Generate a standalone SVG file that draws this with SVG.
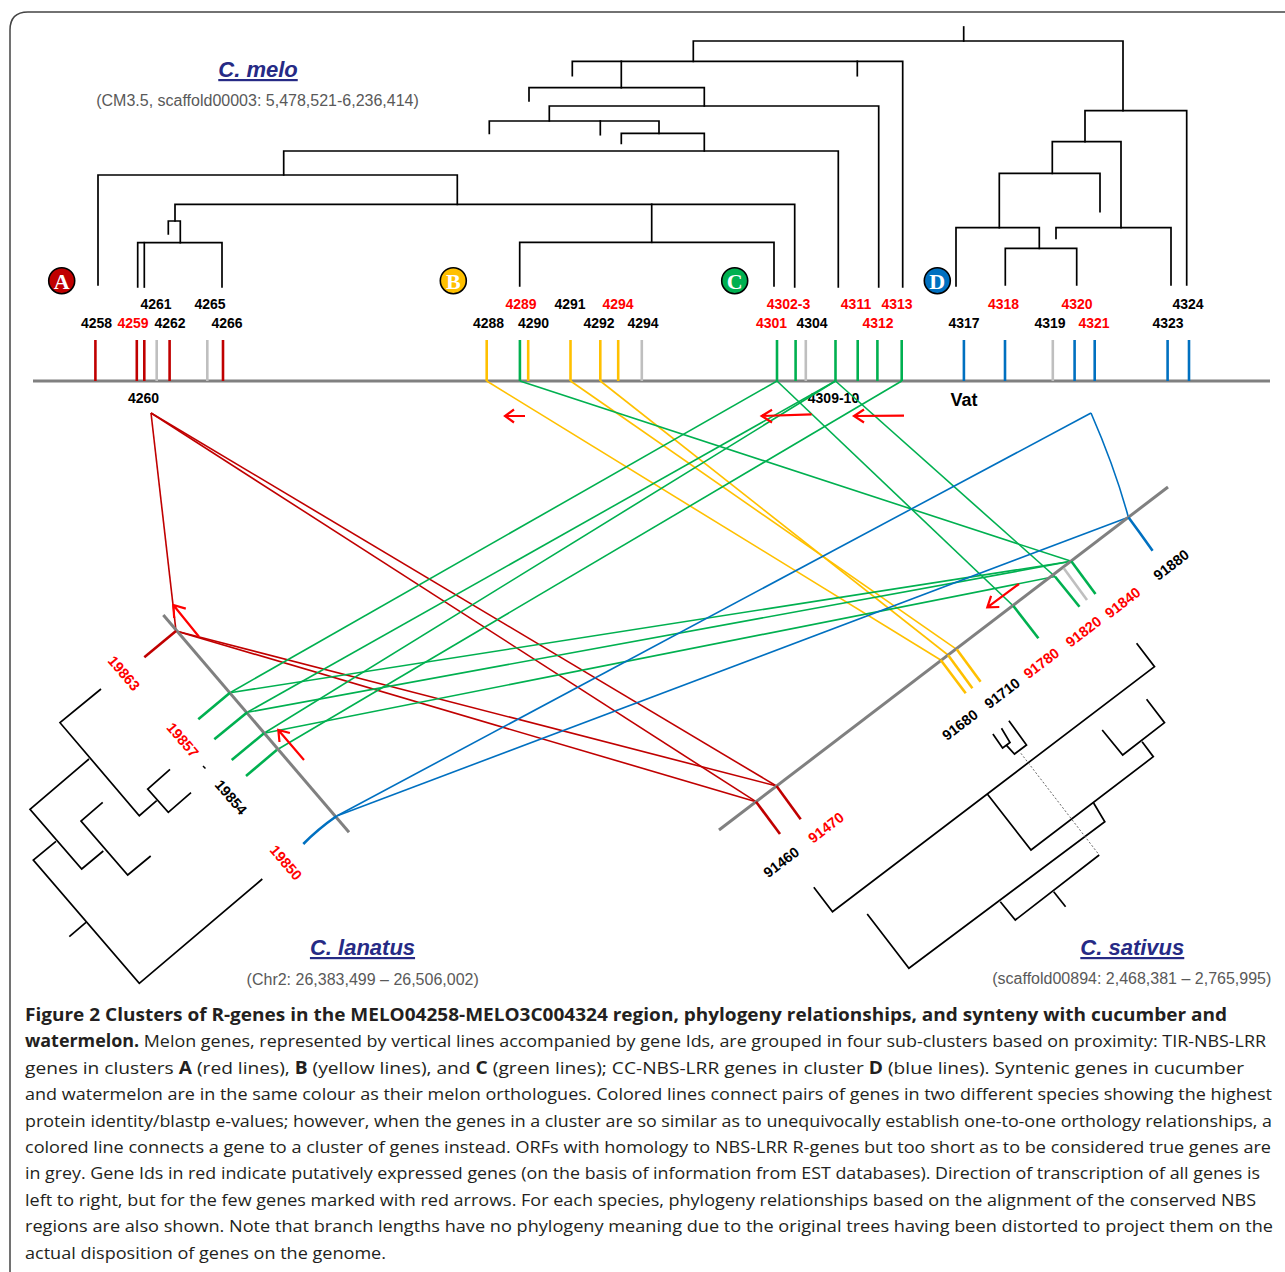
<svg xmlns="http://www.w3.org/2000/svg" width="1285" height="1272" viewBox="0 0 1285 1272">
<style>
.lbl{font-family:"Liberation Sans",Arial,sans-serif;font-weight:bold;font-size:14px;text-anchor:middle}
.rl{font-family:"Liberation Sans",Arial,sans-serif;font-weight:bold;font-size:14.5px;text-anchor:middle}
.r{fill:#FF0000}.k{fill:#000}
.tree{fill:none;stroke:#000;stroke-width:1.7;stroke-linecap:square}
.tk{stroke-width:2.6;fill:none}
.cA{stroke:#C00000}.cB{stroke:#FFC000}.cC{stroke:#00B050}.cD{stroke:#0070C0}.cG{stroke:#BFBFBF}
.cn{fill:none;stroke-width:1.6}
.arr{fill:none;stroke:#FF0000;stroke-width:2.2}
.axis{stroke:#808080;stroke-width:3}
.sp{font-family:"Liberation Sans",Arial,sans-serif;font-weight:bold;font-style:italic;font-size:22px;fill:#262a85;text-anchor:middle;text-decoration:underline}
.sub{font-family:"Liberation Sans",Arial,sans-serif;font-size:16px;fill:#595959;text-anchor:middle}
.circ{stroke:#000;stroke-width:1.6}
.cl{font-family:"Liberation Serif","Times New Roman",serif;font-weight:bold;font-size:22px;fill:#fff;text-anchor:middle}
.cap{font-family:"Open Sans","Noto Sans",sans-serif;font-size:17px;fill:#231F20}
.b{font-weight:bold}
</style>

<g id="frame"><path d="M10,1290 V30 Q10,12 28,12 H1295" fill="none" stroke="#444" stroke-width="1.5"/></g>

<g id="titles">
<text class="sp" x="258" y="77">C. melo</text>
<text class="sub" x="257.5" y="106">(CM3.5, scaffold00003: 5,478,521-6,236,414)</text>
<text class="sp" x="362.5" y="955">C. lanatus</text>
<text class="sub" x="362.7" y="985">(Chr2: 26,383,499 – 26,506,002)</text>
<text class="sp" x="1132.3" y="955">C. sativus</text>
<text class="sub" x="1131.8" y="984">(scaffold00894: 2,468,381 – 2,765,995)</text>
</g>

<g id="melo-tree" class="tree">
<path d="M963.7,27 V41"/>
<path d="M693.3,61.3 V41 H1123 V110.7"/>
<path d="M1085,141.7 V110.7 H1186.7 V285"/>
<path d="M1052.3,173.3 V141.7 H1121 V227.7"/>
<path d="M1056,238.3 V227.7 H1171 V285"/>
<path d="M1100,211.7 V173.3 H999.3 V227.7"/>
<path d="M956,286 V227.7 H1039.3 V248.3"/>
<path d="M1005.3,285 V248.3 H1076.7 V285"/>
<path d="M572.3,75.7 V61.3 H902.7 V287"/>
<path d="M857.3,75.7 V61.3"/>
<path d="M621.3,61.3 V87.7"/>
<path d="M529,101 V87.7 H704.3 V106"/>
<path d="M549.3,121 V106 H878.7 V287"/>
<path d="M489.3,133.3 V121 H659 V133.3"/>
<path d="M600.3,134.7 V121"/>
<path d="M621.3,143.3 V133.3 H704.3 V151"/>
<path d="M283.7,175 V151 H838.3 V287"/>
<path d="M98,285 V175 H457.3 V204.3"/>
<path d="M175,221 V204.3 H794.7 V287"/>
<path d="M651.7,204.3 V242.3"/>
<path d="M519.7,286 V242.3 H774 V286"/>
<path d="M168.3,234 V221 H180.3 V242.7"/>
<path d="M137.7,287 V242.7 H222 V287"/>
<path d="M144.3,287 V242.7"/>
</g>

<g id="cluster-A"><circle class="circ" cx="61.7" cy="280.7" r="13" fill="#C00000"/><text class="cl" x="61.7" y="288.5">A</text></g>
<g id="cluster-B"><circle class="circ" cx="453.3" cy="280.7" r="13" fill="#FFC000"/><text class="cl" x="453.3" y="288.5">B</text></g>
<g id="cluster-C"><circle class="circ" cx="734.7" cy="280.7" r="13" fill="#00B050"/><text class="cl" x="734.7" y="288.5">C</text></g>
<g id="cluster-D"><circle class="circ" cx="937.3" cy="280.7" r="13" fill="#0070C0"/><text class="cl" x="937.3" y="288.5">D</text></g>

<g id="melo-axis"><line class="axis" x1="33" y1="381" x2="1270" y2="381"/></g>

<g id="melo-genes">
<g id="g4258"><line class="tk cA" x1="95.4" y1="340" x2="95.4" y2="381"/><text class="lbl k" x="96.5" y="328">4258</text></g>
<g id="g4259"><line class="tk cA" x1="136.8" y1="340" x2="136.8" y2="381"/><text class="lbl r" x="133" y="328">4259</text></g>
<g id="g4261"><line class="tk cA" x1="144.3" y1="340" x2="144.3" y2="381"/><text class="lbl k" x="156" y="308.5">4261</text></g>
<g id="g4260"><line class="tk cG" x1="156.7" y1="340" x2="156.7" y2="381" stroke-width="2"/><text class="lbl k" x="143.5" y="403">4260</text></g>
<g id="g4262"><line class="tk cA" x1="169.6" y1="340" x2="169.6" y2="381"/><text class="lbl k" x="170" y="328">4262</text></g>
<g id="g4265"><line class="tk cG" x1="207.3" y1="340" x2="207.3" y2="381" stroke-width="2"/><text class="lbl k" x="210" y="308.5">4265</text></g>
<g id="g4266"><line class="tk cA" x1="223" y1="340" x2="223" y2="381"/><text class="lbl k" x="227" y="328">4266</text></g>
<g id="g4288"><line class="tk cB" x1="486.7" y1="340" x2="486.7" y2="381"/><text class="lbl k" x="488.5" y="328">4288</text></g>
<g id="g4289"><line class="tk cC" x1="519.9" y1="340" x2="519.9" y2="381"/><text class="lbl r" x="521" y="308.5">4289</text></g>
<g id="g4290"><line class="tk cB" x1="528.2" y1="340" x2="528.2" y2="381"/><text class="lbl k" x="533.5" y="328">4290</text></g>
<g id="g4291"><line class="tk cB" x1="570.5" y1="340" x2="570.5" y2="381"/><text class="lbl k" x="570" y="308.5">4291</text></g>
<g id="g4292"><line class="tk cB" x1="600.3" y1="340" x2="600.3" y2="381"/><text class="lbl k" x="599" y="328">4292</text></g>
<g id="g4294a"><line class="tk cB" x1="618.2" y1="340" x2="618.2" y2="381"/><text class="lbl r" x="618" y="308.5">4294</text></g>
<g id="g4294b"><line class="tk cG" x1="641.8" y1="340" x2="641.8" y2="381" stroke-width="2"/><text class="lbl k" x="643" y="328">4294</text></g>
<g id="g4301"><line class="tk cC" x1="777" y1="340" x2="777" y2="381"/><text class="lbl r" x="771.5" y="328">4301</text></g>
<g id="g4302-3"><line class="tk cC" x1="795.6" y1="340" x2="795.6" y2="381"/><text class="lbl r" x="788.5" y="308.5">4302-3</text></g>
<g id="g4304"><line class="tk cG" x1="805.8" y1="340" x2="805.8" y2="381" stroke-width="2"/><text class="lbl k" x="812" y="328">4304</text></g>
<g id="g4309-10"><line class="tk cC" x1="835.5" y1="340" x2="835.5" y2="381"/><text class="lbl k" x="833.5" y="403">4309-10</text></g>
<g id="g4311"><line class="tk cC" x1="857.7" y1="340" x2="857.7" y2="381"/><text class="lbl r" x="856" y="308.5">4311</text></g>
<g id="g4312"><line class="tk cC" x1="877.4" y1="340" x2="877.4" y2="381"/><text class="lbl r" x="878" y="328">4312</text></g>
<g id="g4313"><line class="tk cC" x1="901.7" y1="340" x2="901.7" y2="381"/><text class="lbl r" x="897" y="308.5">4313</text></g>
<g id="g4317"><line class="tk cD" x1="963.9" y1="340" x2="963.9" y2="381"/><text class="lbl k" x="964" y="328">4317</text></g>
<g id="g4318"><line class="tk cD" x1="1005" y1="340" x2="1005" y2="381"/><text class="lbl r" x="1003.5" y="308.5">4318</text></g>
<g id="g4319"><line class="tk cG" x1="1052.8" y1="340" x2="1052.8" y2="381" stroke-width="2"/><text class="lbl k" x="1050" y="328">4319</text></g>
<g id="g4320"><line class="tk cD" x1="1074.6" y1="340" x2="1074.6" y2="381"/><text class="lbl r" x="1077" y="308.5">4320</text></g>
<g id="g4321"><line class="tk cD" x1="1094.7" y1="340" x2="1094.7" y2="381"/><text class="lbl r" x="1094" y="328">4321</text></g>
<g id="g4323"><line class="tk cD" x1="1167.6" y1="340" x2="1167.6" y2="381"/><text class="lbl k" x="1168" y="328">4323</text></g>
<g id="g4324"><line class="tk cD" x1="1189" y1="340" x2="1189" y2="381"/><text class="lbl k" x="1188" y="308.5">4324</text></g>
<g id="vat"><text class="lbl k" x="964" y="406" style="font-size:18px">Vat</text></g>
</g>

<g id="connectors">
<g class="cn cA">
<path d="M151,413 L176,631"/>
<path d="M151,413 L756,801.7"/>
<path d="M151,413 L776.5,786"/>
<path d="M176,631 L756,801.7"/>
<path d="M176,631 L776.5,786"/>
</g>
<g class="cn cB">
<path d="M486.7,381 L940.7,660"/>
<path d="M570.5,381 L956.7,649.3"/>
<path d="M600.3,381 L948,655"/>
</g>
<g class="cn cC">
<path d="M519.9,381 L1071.3,561.3"/>
<path d="M777,381 L230,692.7"/>
<path d="M777,381 L1013.4,606"/>
<path d="M835.5,381 L247.3,712.3"/>
<path d="M835.5,381 L264,733.3"/>
<path d="M835.5,381 L1055,576.5"/>
<path d="M901.7,381 L276.7,750"/>
<path d="M230,692.7 L1071.3,561.3"/>
<path d="M247.3,712.3 L1071.3,561.3"/>
<path d="M264,733.3 L1055,576.5"/>
</g>
<g class="cn cD">
<path d="M1091,413 L336.7,816"/>
<path d="M336.7,816 L1128.4,517.3"/>
<path d="M1091,413 Q1115,468 1128.4,517.3"/>
</g>
</g>

<g id="lanatus">
<line class="axis" x1="163.3" y1="615" x2="349" y2="832.3"/>
<g id="l19863"><path class="tk cA" d="M176,631 L144.3,657.3"/><text class="rl r" transform="translate(124,673.3) rotate(49.5)" dy="5">19863</text></g>
<g id="l19857"><path class="tk cC" d="M230,692.7 L198.3,719.3"/><path class="tk cC" d="M247.3,712.3 L214.3,739.3"/><text class="rl r" transform="translate(182.7,740) rotate(49.5)" dy="5">19857</text></g>
<g id="l19854"><path class="tk cC" d="M264,733.3 L231.7,760"/><path class="tk cC" d="M276.7,750 L246,776"/><path d="M203,766 L205.5,768.5" stroke="#000" stroke-width="1.5"/><text class="rl k" transform="translate(231,797.3) rotate(49.5)" dy="5">19854</text></g>
<g id="l19850"><path class="tk cD" d="M336.7,816 Q318,829 303.3,844"/><text class="rl r" transform="translate(286,862.7) rotate(49.5)" dy="5">19850</text></g>
<g id="lanatus-tree" class="tree" style="stroke-linecap:butt">
<path d="M101,689 L60,722.7 L139.3,815.7 L156.7,800.7"/>
<path d="M170,769.3 L147.7,789 L168.3,812.3 L191,792.7"/>
<path d="M89,759 L30,809.3 L81.7,869 L103.3,851"/>
<path d="M102.7,802.3 L81,821 L127.7,875 L150.7,856"/>
<path d="M56,841.3 L33.3,860 L139.3,983.3 L262.3,879"/>
<path d="M86,922.3 L69.3,936.7"/>
</g>
</g>

<g id="sativus">
<line class="axis" x1="719" y1="830" x2="1168" y2="487"/>
<g id="s91460"><path class="tk cA" d="M756,801.7 L780,834"/><text class="rl k" transform="translate(781.3,862.3) rotate(-37.4)" dy="5">91460</text></g>
<g id="s91470"><path class="tk cA" d="M776.5,786 L800.7,819.3"/><text class="rl r" transform="translate(826.1,827.7) rotate(-37.4)" dy="5">91470</text></g>
<g id="s91680"><path class="tk cB" d="M940.7,660 L965.7,693.3"/><path class="tk cB" d="M948,655 L972.4,688.3"/><text class="rl k" transform="translate(960,725) rotate(-37.4)" dy="5">91680</text></g>
<g id="s91710"><path class="tk cB" d="M956.7,649.3 L980.6,681.7"/><text class="rl k" transform="translate(1002.2,693.3) rotate(-37.4)" dy="5">91710</text></g>
<g id="s91780"><path class="tk cC" d="M1013.4,606 L1038.4,638.3"/><text class="rl r" transform="translate(1041.4,663.3) rotate(-37.4)" dy="5">91780</text></g>
<g id="s91820"><path class="tk cC" d="M1055,576.5 L1079.5,606.7"/><path class="tk cG" d="M1063.8,568.3 L1087,600" stroke-width="2"/><text class="rl r" transform="translate(1083.6,631.7) rotate(-37.4)" dy="5">91820</text></g>
<g id="s91840"><path class="tk cC" d="M1071.3,561.3 L1095.5,594"/><text class="rl r" transform="translate(1122.7,602.7) rotate(-37.4)" dy="5">91840</text></g>
<g id="s91880"><path class="tk cD" d="M1128.4,517.3 Q1140,533 1152.6,550.7"/><text class="rl k" transform="translate(1171.2,565) rotate(-37.4)" dy="5">91880</text></g>
<g id="sativus-tree" class="tree" style="stroke-linecap:butt">
<path d="M1136.6,643.3 L1154.5,666.7 L832.5,911.7 L813.8,887.3"/>
<path d="M987.3,794 L1031,850 L1153.3,756.7 L1142.1,741.7"/>
<path d="M1102.2,730 L1122.7,755 L1164.5,722.7 L1146.6,699.3"/>
<path d="M1093.6,803 L1104.8,821.7 L908.9,968.3 L867.2,914"/>
<path d="M1000.3,901.7 L1015.3,920 L1099.2,855"/>
<path d="M1053.7,891.7 L1065.6,906.7"/>
<path d="M992.9,734 L1002.6,748 L1010,742.5 L1001.5,728.3"/>
<path d="M1006.3,745.2 L1014.5,754 L1026.5,745 L1008.9,720.7"/>
</g>
<path d="M1020.9,753.3 L1099.2,855" fill="none" stroke="#666" stroke-width="1" stroke-dasharray="2,2"/>
</g>

<g id="arrows" class="arr">
<path d="M525,416 H505 M514,409.5 L505,416 L514,422.5"/>
<path d="M811.7,414.3 L761.7,416 M772,409.8 L761.7,416 L772,422.5"/>
<path d="M904,415.7 L854,416 M864,409.5 L854,416 L864,422.5"/>
<path d="M199,636.7 L173.3,605 M185.8,608.6 L173.3,605 L174.2,618"/>
<path d="M304,760 L278.3,730 M289.9,733 L278.3,730 L279.5,742"/>
<path d="M1019,584 L987.3,607.3 M999.3,607 L987.3,607.3 L991.1,595.9"/>
</g>

<g id="caption" class="cap">
<text x="25" y="1021" textLength="1202" lengthAdjust="spacingAndGlyphs" class="b">Figure 2 Clusters of R-genes in the MELO04258-MELO3C004324 region, phylogeny relationships, and synteny with cucumber and</text>
<text x="25" y="1047" textLength="1241" lengthAdjust="spacingAndGlyphs"><tspan class="b">watermelon.</tspan> Melon genes, represented by vertical lines accompanied by gene Ids, are grouped in four sub-clusters based on proximity: TIR-NBS-LRR</text>
<text x="25" y="1074" textLength="1219" lengthAdjust="spacingAndGlyphs">genes in clusters <tspan class="b">A</tspan> (red lines), <tspan class="b">B</tspan> (yellow lines), and <tspan class="b">C</tspan> (green lines); CC-NBS-LRR genes in cluster <tspan class="b">D</tspan> (blue lines). Syntenic genes in cucumber</text>
<text x="25" y="1100" textLength="1247" lengthAdjust="spacingAndGlyphs">and watermelon are in the same colour as their melon orthologues. Colored lines connect pairs of genes in two different species showing the highest</text>
<text x="25" y="1127" textLength="1247" lengthAdjust="spacingAndGlyphs">protein identity/blastp e-values; however, when the genes in a cluster are so similar as to unequivocally establish one-to-one orthology relationships, a</text>
<text x="25" y="1153" textLength="1246" lengthAdjust="spacingAndGlyphs">colored line connects a gene to a cluster of genes instead. ORFs with homology to NBS-LRR R-genes but too short as to be considered true genes are</text>
<text x="25" y="1179" textLength="1235" lengthAdjust="spacingAndGlyphs">in grey. Gene Ids in red indicate putatively expressed genes (on the basis of information from EST databases). Direction of transcription of all genes is</text>
<text x="25" y="1206" textLength="1231" lengthAdjust="spacingAndGlyphs">left to right, but for the few genes marked with red arrows. For each species, phylogeny relationships based on the alignment of the conserved NBS</text>
<text x="25" y="1232" textLength="1248" lengthAdjust="spacingAndGlyphs">regions are also shown. Note that branch lengths have no phylogeny meaning due to the original trees having been distorted to project them on the</text>
<text x="25" y="1259" textLength="361" lengthAdjust="spacingAndGlyphs">actual disposition of genes on the genome.</text>
</g>
</svg>
